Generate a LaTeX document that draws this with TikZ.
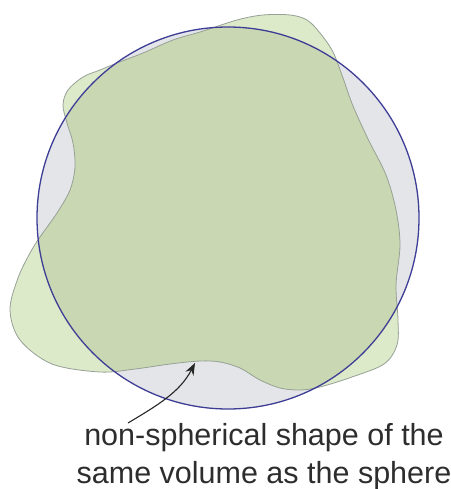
\documentclass[tikz,border=0pt]{standalone}
\usepackage{fontspec}
\setmainfont{Liberation Sans}
\usetikzlibrary{arrows.meta}
\definecolor{lightgreen}{RGB}{221,234,202}
\definecolor{darkgreen}{RGB}{201,216,178}
\definecolor{spheregray}{RGB}{228,229,233}
\definecolor{blobline}{RGB}{150,160,150}
\definecolor{sphereline}{RGB}{62,62,150}
\definecolor{textgray}{RGB}{45,45,45}
\tikzset{
  blobshape/.style={fill=lightgreen},
  blobedge/.style={draw=blobline, line width=0.8pt},
  sphereedge/.style={draw=sphereline, line width=1.3pt},
  caption/.style={font=\fontsize{30.5}{36}\selectfont, text=textgray, anchor=base, inner sep=0pt},
  pointer/.style={-{Stealth[length=12pt,width=9pt]}, line width=1.1pt, draw=black!85}
}
\begin{document}
\begin{tikzpicture}[x=1pt,y=-1pt]
\useasboundingbox (0,0) rectangle (450,489);
\def\blobpath{plot[smooth cycle, tension=0.55] coordinates {
 (100,70) (117,63) (143,53) (173,40) (200,32) (237,20) (263,15) (290,15) (307,20) (320,33)
 (333,52) (343,78) (353,106) (368,139) (386,175) (396,210) (400,245) (396,285) (398,320)
 (397,345) (384,364) (352,377) (320,387) (300,390) (280,388) (260,380) (240,368) (220,362)
 (200,361) (170,364) (135,369) (100,372) (52,364) (20,340) (10,310) (18,278) (30,253)
 (40,237) (57,213) (70,190) (75,167) (73,143) (67,123) (63,105) (68,90) (83,77)}}
% sphere fill
\fill[spheregray] (228,218) circle[radius=191];
% blob fill
\fill[blobshape] \blobpath;
% overlap
\begin{scope}
  \clip \blobpath;
  \fill[darkgreen] (228,218) circle[radius=191];
\end{scope}
\draw[blobedge] \blobpath;
\node[sphereedge, circle, minimum size=382pt, inner sep=0pt] (sphere) at (228,218) {};
% caption
\node[caption] (line1) at (264,445) {non-spherical shape of the};
\node[caption] (line2) at (264,483) {same volume as the sphere};
\coordinate (arrowstart) at (128,423);
\coordinate (arrowtip) at (195,363);
\draw[pointer] (arrowstart) .. controls (158,405) and (180,392) .. (arrowtip);
\end{tikzpicture}
\end{document}
